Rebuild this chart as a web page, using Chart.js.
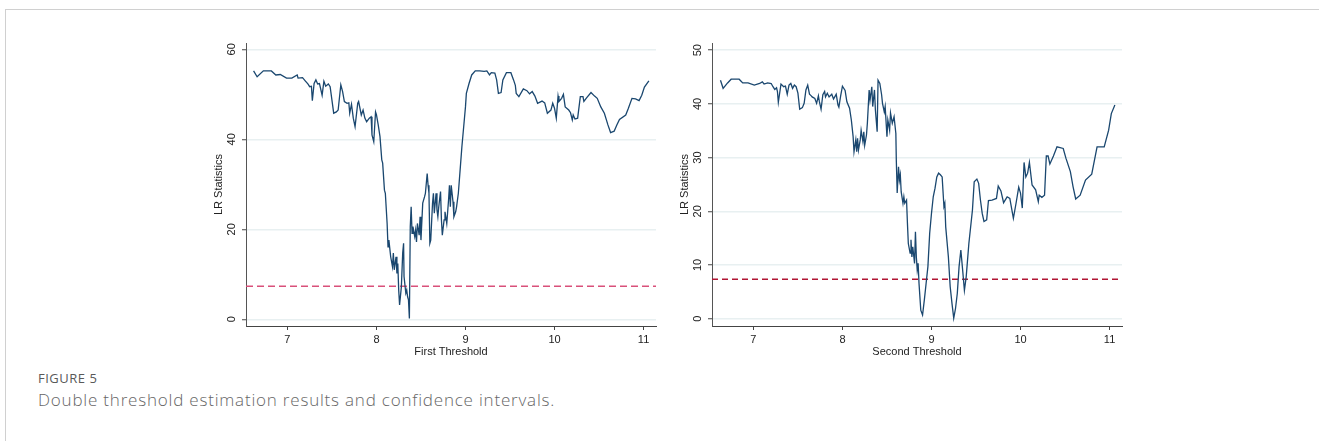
<!DOCTYPE html>
<html>
<head>
<meta charset="utf-8">
<script src="https://cdn.jsdelivr.net/npm/chart.js@4.4.1/dist/chart.umd.min.js"></script>
<style>
  html, body { margin: 0; padding: 0; background: #fff; width: 1319px; height: 441px; overflow: hidden; }
  #frame { position: absolute; left: 5px; top: 9px; right: 0; bottom: 0; border-left: 1px solid #d0d0d0; border-top: 1px solid #d0d0d0; }
  canvas { position: absolute; }
  #first { left: 200px; top: 30px; }
  #second { left: 666px; top: 30px; }
  .fig-no { position: absolute; left: 38px; top: 369px; font: 500 13px 'Open Sans', sans-serif; color: #595959; letter-spacing: 0.5px; }
  .fig-text { position: absolute; left: 38px; top: 388px; font: 300 17px 'Open Sans', sans-serif; color: #666; letter-spacing: 0.8px; }
</style>
</head>
<body>
<div id="frame"></div>
<canvas id="first" width="460" height="340"></canvas>
<canvas id="second" width="460" height="340"></canvas>
<div class="fig-no">FIGURE 5</div>
<div class="fig-text">Double threshold estimation results and confidence intervals.</div>
<script>
// Threshold grid and likelihood-ratio statistics, first threshold search
const firstThreshold = [6.62, 6.66, 6.73, 6.82, 6.87, 6.92, 6.99, 7.05, 7.11, 7.12, 7.17, 7.20, 7.23, 7.25, 7.27, 7.28, 7.30, 7.32, 7.34, 7.36, 7.39, 7.41, 7.43, 7.46, 7.48, 7.52, 7.55, 7.57, 7.60, 7.62, 7.64, 7.67, 7.69, 7.70, 7.72, 7.74, 7.76, 7.79, 7.80, 7.83, 7.85, 7.87, 7.89, 7.92, 7.94, 7.95, 7.97, 7.98, 7.99, 8.00, 8.02, 8.04, 8.06, 8.07, 8.09, 8.10, 8.12, 8.13, 8.14, 8.16, 8.18, 8.19, 8.20, 8.22, 8.23, 8.24, 8.25, 8.26, 8.28, 8.295, 8.305, 8.31, 8.33, 8.34, 8.35, 8.36, 8.37, 8.38, 8.39, 8.40, 8.41, 8.43, 8.44, 8.45, 8.46, 8.48, 8.49, 8.50, 8.52, 8.54, 8.55, 8.57, 8.58, 8.59, 8.60, 8.61, 8.63, 8.64, 8.65, 8.67, 8.68, 8.69, 8.70, 8.72, 8.73, 8.74, 8.76, 8.77, 8.79, 8.81, 8.82, 8.83, 8.84, 8.86, 8.87, 8.89, 8.90, 8.92, 8.94, 8.96, 8.98, 9.00, 9.01, 9.04, 9.07, 9.11, 9.16, 9.21, 9.24, 9.27, 9.29, 9.33, 9.35, 9.37, 9.40, 9.42, 9.46, 9.51, 9.54, 9.56, 9.57, 9.60, 9.65, 9.69, 9.72, 9.75, 9.78, 9.81, 9.86, 9.89, 9.92, 9.96, 9.98, 10.00, 10.02, 10.04, 10.05, 10.08, 10.10, 10.12, 10.16, 10.18, 10.20, 10.21, 10.23, 10.26, 10.29, 10.32, 10.33, 10.36, 10.41, 10.45, 10.48, 10.52, 10.56, 10.60, 10.63, 10.67, 10.70, 10.73, 10.80, 10.83, 10.87, 10.91, 10.95, 10.98, 11.01, 11.06];
const firstLR = [55.2, 53.9, 55.2, 55.2, 54.3, 54.4, 53.6, 53.6, 54.3, 53.6, 53.7, 53.0, 52.3, 51.7, 51.8, 48.6, 52.4, 53.2, 52.3, 52.4, 49.8, 52.9, 51.8, 52.3, 51.7, 45.8, 46.1, 46.5, 52.1, 50.6, 48.4, 48.0, 48.1, 45.8, 47.8, 44.7, 42.8, 48.0, 48.4, 45.4, 46.5, 44.7, 43.9, 44.7, 45.0, 41.0, 39.5, 42.8, 46.1, 45.5, 43.2, 40.6, 35.4, 34.7, 28.7, 28.0, 21.3, 16.1, 17.6, 13.9, 11.7, 14.7, 11.0, 13.9, 10.2, 12.4, 6.5, 3.2, 7.2, 14.7, 16.9, 9.5, 5.8, 6.5, 5.0, 4.3, 0.2, 20.6, 25.0, 19.1, 20.6, 18.4, 19.8, 17.2, 21.3, 18.7, 22.8, 17.6, 25.8, 27.2, 28.0, 32.4, 29.8, 28.0, 16.9, 17.6, 25.8, 28.0, 23.6, 28.0, 24.3, 22.8, 25.0, 28.4, 22.1, 18.7, 22.1, 23.9, 21.3, 26.5, 29.8, 25.0, 29.8, 26.1, 22.8, 23.9, 25.0, 28.0, 33.2, 38.4, 42.8, 47.2, 50.2, 52.4, 54.3, 55.2, 55.2, 55.1, 55.2, 54.3, 54.8, 54.7, 53.2, 50.2, 50.4, 53.2, 54.8, 54.8, 53.2, 52.0, 50.2, 49.5, 51.2, 50.8, 50.1, 50.6, 49.6, 48.0, 48.5, 48.1, 45.8, 46.5, 48.0, 46.9, 44.7, 49.6, 48.4, 49.1, 50.0, 47.2, 46.5, 45.9, 44.3, 45.4, 44.5, 44.7, 49.5, 49.5, 48.4, 49.2, 50.4, 49.6, 49.1, 47.2, 45.8, 43.2, 41.5, 41.8, 43.2, 44.4, 45.4, 46.9, 49.1, 49.0, 48.6, 49.8, 51.6, 53.0];

// Threshold grid and likelihood-ratio statistics, second threshold search
const secondThreshold = [6.63, 6.66, 6.71, 6.75, 6.84, 6.88, 6.94, 7.01, 7.07, 7.10, 7.12, 7.16, 7.20, 7.22, 7.24, 7.26, 7.27, 7.28, 7.31, 7.34, 7.36, 7.38, 7.40, 7.42, 7.44, 7.46, 7.48, 7.50, 7.52, 7.55, 7.57, 7.59, 7.61, 7.63, 7.65, 7.66, 7.69, 7.71, 7.73, 7.74, 7.76, 7.78, 7.80, 7.81, 7.83, 7.85, 7.88, 7.90, 7.92, 7.93, 7.95, 7.96, 7.98, 8.00, 8.03, 8.05, 8.08, 8.10, 8.12, 8.13, 8.15, 8.16, 8.17, 8.18, 8.20, 8.21, 8.23, 8.24, 8.25, 8.27, 8.28, 8.30, 8.31, 8.33, 8.34, 8.36, 8.37, 8.39, 8.40, 8.42, 8.44, 8.45, 8.47, 8.48, 8.50, 8.51, 8.53, 8.54, 8.56, 8.58, 8.60, 8.605, 8.615, 8.63, 8.64, 8.65, 8.66, 8.68, 8.69, 8.70, 8.72, 8.73, 8.74, 8.76, 8.77, 8.78, 8.79, 8.81, 8.82, 8.83, 8.84, 8.85, 8.86, 8.88, 8.90, 8.92, 8.94, 8.96, 8.98, 9.00, 9.02, 9.04, 9.06, 9.08, 9.10, 9.12, 9.14, 9.15, 9.16, 9.19, 9.21, 9.23, 9.25, 9.27, 9.29, 9.31, 9.33, 9.35, 9.37, 9.39, 9.42, 9.46, 9.48, 9.51, 9.53, 9.55, 9.57, 9.59, 9.62, 9.64, 9.68, 9.73, 9.75, 9.78, 9.81, 9.85, 9.88, 9.92, 9.95, 9.98, 10.00, 10.02, 10.04, 10.06, 10.08, 10.10, 10.13, 10.17, 10.20, 10.21, 10.24, 10.27, 10.29, 10.31, 10.33, 10.37, 10.41, 10.48, 10.51, 10.56, 10.59, 10.62, 10.67, 10.73, 10.80, 10.86, 10.94, 10.99, 11.02, 11.06];
const secondLR = [44.4, 42.9, 43.9, 44.6, 44.6, 43.9, 43.9, 43.5, 43.8, 44.1, 43.7, 43.9, 43.8, 43.2, 42.7, 43.0, 42.3, 40.3, 43.7, 43.2, 43.3, 41.8, 43.5, 43.8, 42.9, 43.5, 43.2, 42.0, 39.0, 39.3, 40.1, 42.6, 43.5, 41.8, 41.5, 41.3, 41.0, 40.1, 41.5, 40.5, 39.0, 41.7, 42.3, 41.3, 42.0, 41.3, 41.8, 40.9, 41.5, 41.8, 39.8, 39.4, 41.5, 43.3, 42.5, 40.4, 39.2, 37.0, 33.9, 31.1, 33.3, 31.1, 33.6, 31.4, 33.3, 35.1, 33.0, 34.8, 32.3, 34.2, 36.4, 42.6, 40.7, 43.2, 39.5, 42.6, 38.9, 34.8, 44.4, 43.8, 41.7, 40.1, 38.5, 39.5, 33.9, 37.0, 35.1, 38.3, 36.4, 37.6, 34.5, 29.6, 23.4, 28.3, 25.8, 26.8, 23.6, 21.5, 22.7, 21.5, 22.1, 17.8, 14.0, 12.2, 14.7, 11.5, 13.4, 10.3, 16.2, 11.5, 9.1, 10.3, 6.6, 1.6, 0.7, 3.5, 6.6, 9.7, 15.9, 19.6, 22.7, 24.3, 26.4, 27.1, 26.8, 26.4, 20.9, 21.5, 17.1, 11.5, 6.0, 2.9, 0.1, 1.9, 4.7, 9.7, 12.8, 9.1, 5.3, 7.8, 14.0, 20.2, 25.5, 26.0, 25.2, 22.1, 19.6, 18.1, 18.4, 22.0, 22.1, 22.4, 24.7, 23.8, 21.6, 22.7, 22.4, 18.7, 21.5, 24.5, 23.4, 20.6, 29.1, 26.4, 27.1, 29.1, 24.9, 24.0, 21.8, 23.0, 22.6, 23.0, 30.3, 30.3, 28.8, 30.3, 32.0, 31.7, 29.9, 27.4, 24.6, 22.3, 23.0, 25.8, 26.9, 32.0, 32.0, 35.1, 38.2, 39.8];

// 95% critical value of the LR statistic
const criticalValue = 7.35;

// Axis ranges and tick labels
const xRange = [6.535, 11.14];
const xTicks = [7, 8, 9, 10, 11];
const firstYRange = [-1.49, 61.4];
const firstYTicks = [0, 20, 40, 60];
const secondYRange = [-1.36, 51.34];
const secondYTicks = [0, 10, 20, 30, 40, 50];

const FONT = "'Liberation Sans', Arial, sans-serif";
Chart.defaults.font.family = FONT;
Chart.defaults.color = '#222';

function drawPanel(canvasId, xs, ys, yRange, yTicks, xTitle, cvColor, cvWidth, cvDash) {
  const curve = xs.map((x, i) => ({ x: x, y: ys[i] }));
  const cvLine = xRange.map(x => ({ x: x, y: criticalValue }));
  return new Chart(document.getElementById(canvasId), {
    type: 'line',
    data: {
      datasets: [
        { data: curve, borderColor: '#1a476f', borderWidth: 1.3, pointRadius: 0, tension: 0, fill: false, order: 1 },
        { data: cvLine, borderColor: cvColor, borderWidth: cvWidth, borderDash: cvDash, pointRadius: 0, tension: 0, fill: false, order: 2 }
      ]
    },
    options: {
      responsive: false,
      animation: false,
      devicePixelRatio: 1,
      layout: { padding: { top: 13, right: 4, left: 0, bottom: 0 } },
      plugins: { legend: { display: false }, tooltip: { enabled: false } },
      scales: {
        x: {
          type: 'linear',
          min: xRange[0], max: xRange[1],
          afterBuildTicks: s => { s.ticks = xTicks.map(v => ({ value: v })); },
          afterFit: s => { s.height = 44; },
          grid: { drawOnChartArea: false, tickLength: 4, tickColor: '#444', tickWidth: 1 },
          border: { color: '#444', width: 1 },
          ticks: { autoSkip: false, maxRotation: 0, padding: 3, font: { size: 11 }, color: '#222' },
          title: { display: true, text: xTitle, font: { size: 11 }, color: '#222', padding: { top: 0, bottom: 11 } }
        },
        y: {
          type: 'linear',
          min: yRange[0], max: yRange[1],
          afterBuildTicks: s => { s.ticks = yTicks.map(v => ({ value: v })); },
          afterFit: s => { s.width = 46; },
          grid: { color: '#e8f0f1', lineWidth: 1.5, tickLength: 4, tickColor: '#444', tickWidth: 1 },
          border: { color: '#555', width: 1 },
          ticks: { autoSkip: false, minRotation: 90, maxRotation: 90, crossAlign: 'center', padding: 4, font: { size: 11 }, color: '#222' },
          title: { display: true, text: 'LR Statistics', font: { size: 11 }, color: '#222', padding: { top: 12, bottom: 0 } }
        }
      }
    }
  });
}

drawPanel('first', firstThreshold, firstLR, firstYRange, firstYTicks, 'First Threshold', '#d9507a', 1.6, [7, 4]);
drawPanel('second', secondThreshold, secondLR, secondYRange, secondYTicks, 'Second Threshold', '#b01533', 1.3, [6, 4]);
</script>
</body>
</html>
